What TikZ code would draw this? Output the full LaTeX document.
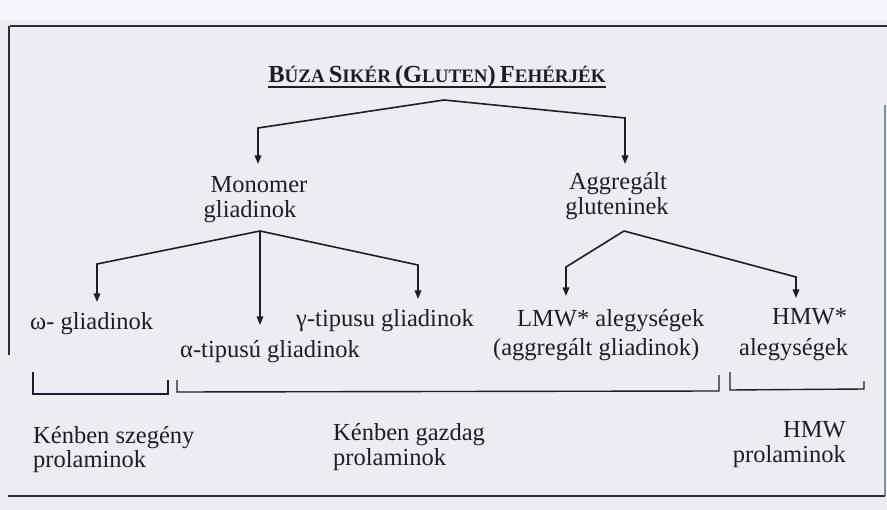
\documentclass[tikz,border=0pt]{standalone}
\usepackage{fontspec}
\setmainfont{Liberation Serif}
\usetikzlibrary{arrows.meta}
\definecolor{paper}{RGB}{238,236,243}
\definecolor{paperlight}{RGB}{246,245,249}
\definecolor{ink}{RGB}{30,28,40}
\definecolor{frame}{RGB}{45,45,50}
\definecolor{rframe}{RGB}{120,150,160}
\newcommand\capbig[1]{{\fontsize{24.5bp}{26bp}\selectfont #1}}
\newcommand\capsmall[1]{{\fontsize{19bp}{26bp}\selectfont #1}}
\begin{document}
\begin{tikzpicture}[x=1bp,y=-1bp,
  lbl/.style={inner sep=0pt,text=ink,font=\fontsize{24.5bp}{26bp}\selectfont},
  ttl/.style={inner sep=0pt,text=ink,font=\bfseries\fontsize{24.5bp}{26bp}\selectfont},
  br/.style={draw=ink,line width=1.6bp,line join=miter},
  arr/.style={br,-{Triangle[length=8.5bp,width=6.5bp]}},
  brk/.style={draw=ink,line width=1.4bp},
  frm/.style={draw=frame,line width=1.5bp}]
\useasboundingbox (0,0) rectangle (887,510);
\fill[paper] (0,0) rectangle (887,510);
\fill[paperlight] (0,0) rectangle (887,20);
% frame
\draw[frm] (10,26) -- (887,26);
\draw[frm] (9,26) -- (9,355);
\draw[draw=rframe,line width=1.2bp] (885,105) -- (885,496);
\draw[frm] (8,496) -- (885,496);
% title
\node[ttl,anchor=base] (title) at (437,83)
 {\capbig{B}\capsmall{ÚZA}\hspace{4bp}\capbig{S}\capsmall{IKÉR}\hspace{4bp}\capbig{(G}\capsmall{LUTEN}\capbig{)}\hspace{4bp}\capbig{F}\capsmall{EHÉRJÉK}};
\draw[draw=ink,line width=2bp] ([yshift=-4.5bp]title.base west) -- ([yshift=-4.5bp]title.base east);
% level 1
\node[lbl,anchor=base] (mono1) at (259,193) {Monomer};
\node[lbl,anchor=base] (mono2) at (250,218) {gliadinok};
\node[lbl,anchor=base] (aggr1) at (618,190) {Aggregált};
\node[lbl,anchor=base] (aggr2) at (617,215) {gluteninek};
% level 2
\node[lbl,anchor=base west] (omega) at (30,330) {ω- gliadinok};
\node[lbl,anchor=base west] (alpha) at (180,357) {α-tipusú gliadinok};
\node[lbl,anchor=base west] (gamma) at (296,327) {γ-tipusu gliadinok};
\node[lbl,anchor=base west] (lmw1) at (517,327) {LMW* alegységek};
\node[lbl,anchor=base west] (lmw2) at (493,355) {(aggregált gliadinok)};
\node[lbl,anchor=base west] (hmw1) at (772,325) {HMW*};
\node[lbl,anchor=base west] (hmw2) at (739,355) {alegységek};
% level 3
\node[lbl,anchor=base west] (poor1) at (33,443) {Kénben szegény};
\node[lbl,anchor=base west] (poor2) at (33,467) {prolaminok};
\node[lbl,anchor=base west] (rich1) at (333,440) {Kénben gazdag};
\node[lbl,anchor=base west] (rich2) at (333,465) {prolaminok};
\node[lbl,anchor=base east] (hp1) at (846,437) {HMW};
\node[lbl,anchor=base east] (hp2) at (846,462) {prolaminok};
% connector points
\coordinate (tA) at (444,100);
\coordinate (tL) at (258,128);
\coordinate (tLe) at (258,164);
\coordinate (tR) at (625,118);
\coordinate (tRe) at (625,164);
\coordinate (mA) at (260,231);
\coordinate (mL) at (97,264);
\coordinate (mLe) at (97,302);
\coordinate (mCe) at (260,325);
\coordinate (mR) at (418,265);
\coordinate (mRe) at (418,299);
\coordinate (aA) at (624,231);
\coordinate (aL) at (566,267);
\coordinate (aLe) at (566,296);
\coordinate (aR) at (796,277);
\coordinate (aRe) at (796,298);
% connectors
\draw[arr] (tA) -- (tL) -- (tLe);
\draw[arr] (tA) -- (tR) -- (tRe);
\draw[arr] (mA) -- (mL) -- (mLe);
\draw[arr] (mA) -- (mCe);
\draw[arr] (mA) -- (mR) -- (mRe);
\draw[arr] (aA) -- (aL) -- (aLe);
\draw[arr] (aA) -- (aR) -- (aRe);
% brackets
\draw[brk] (33,372) -- (33,394) -- (168,394) -- (168,380);
\draw[brk] (177,380) -- (177,392) -- (719,391) -- (719,375);
\draw[brk] (730,372) -- (730,390) -- (864,389) -- (864,381);
\end{tikzpicture}
\end{document}
